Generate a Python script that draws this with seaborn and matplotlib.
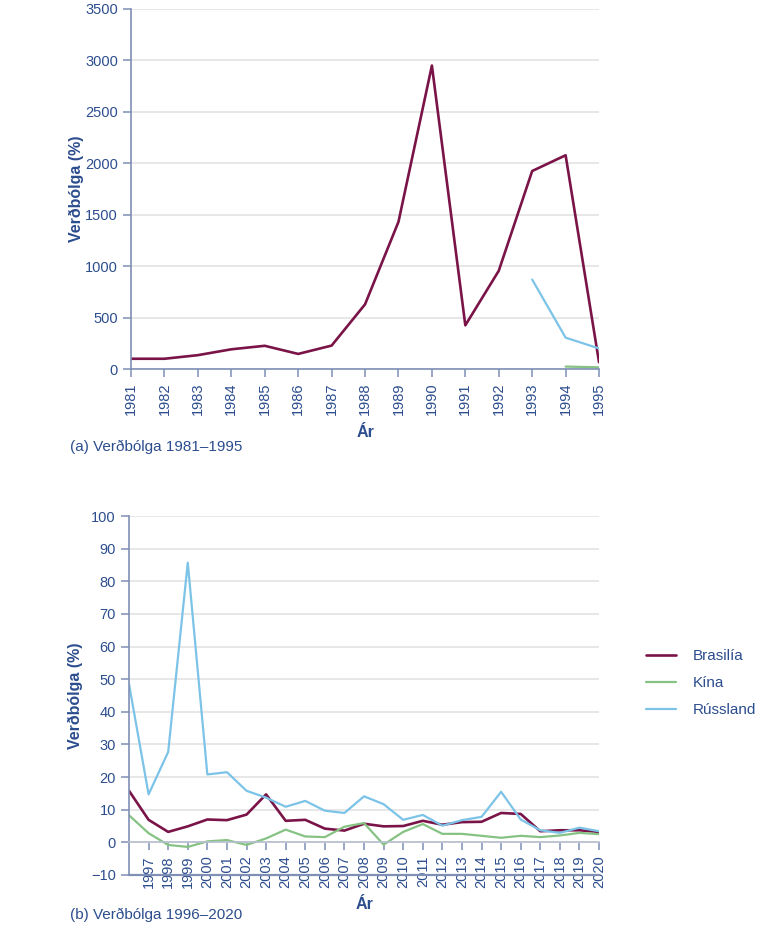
import numpy as np
import pandas as pd
import matplotlib
matplotlib.use("Agg")
import matplotlib.pyplot as plt
import seaborn as sns

# Data
years_a = list(range(1981, 1996))
brazil_a = [100, 100, 135, 192, 226, 147, 228, 629, 1431, 2950, 425, 955, 1925, 2078, 66]
russia_a = [np.nan] * 12 + [870, 305, 200]
china_a = [np.nan] * 13 + [24, 17]

years_b = list(range(1996, 2021))
brazil_b = [15.8, 6.9, 3.2, 4.9, 7.0, 6.8, 8.5, 14.7, 6.6, 6.9, 4.2, 3.6, 5.7, 4.9, 5.0,
            6.6, 5.4, 6.2, 6.3, 9.0, 8.7, 3.4, 3.7, 3.7, 3.2]
china_b = [8.3, 2.8, -0.8, -1.4, 0.3, 0.7, -0.8, 1.2, 3.9, 1.8, 1.6, 4.8, 5.9, -0.7, 3.2,
           5.6, 2.6, 2.6, 2.0, 1.4, 2.0, 1.6, 2.1, 2.9, 2.5]
russia_b = [48.5, 14.7, 27.7, 85.7, 20.8, 21.5, 15.8, 13.7, 10.9, 12.7, 9.7, 9.0, 14.1, 11.7, 6.9,
            8.4, 5.1, 6.8, 7.8, 15.5, 7.0, 3.7, 2.9, 4.5, 3.4]

countries = ['Brasilía', 'Kína', 'Rússland']
colors = {'Brasilía': '#7a1448', 'Kína': '#86c283', 'Rússland': '#7cc3e8'}
widths = {'Brasilía': 1.9, 'Kína': 1.6, 'Rússland': 1.6}

txt = '#2c4d8e'
spine = '#7f8fb5'
grid = '#e3e3e3'


def long_form(years, series):
    frames = []
    for name, vals in zip(countries, series):
        frames.append(pd.DataFrame({'Ár': years, 'val': vals, 'land': name}))
    return pd.concat(frames).dropna()


df_a = long_form(years_a, [brazil_a, china_a, russia_a])
df_b = long_form(years_b, [brazil_b, china_b, russia_b])

sns.set_style('white')
plt.rcParams['font.family'] = ['Liberation Sans', 'DejaVu Sans']

fig = plt.figure(figsize=(7.8, 9.35), dpi=100)
ax1 = fig.add_axes([0.168, 0.6053, 0.600, 0.3851])
ax2 = fig.add_axes([0.1654, 0.0642, 0.6026, 0.3839])

# bottom panel: x axis sits on the zero line (set before ticks, it resets them)
ax2.spines['bottom'].set_position(('data', 0))


def draw(ax, df):
    for name in countries:
        sub = df[df['land'] == name]
        if len(sub):
            sns.lineplot(data=sub, x='Ár', y='val', ax=ax, color=colors[name],
                         lw=widths[name], label=name, legend=False)


draw(ax1, df_a)
draw(ax2, df_b)

# top panel
ax1.set_xlim(1981, 1995)
ax1.set_ylim(0, 3500)
ax1.set_yticks(range(0, 3501, 500))
ax1.set_xticks(years_a)
ax1.set_xticklabels([str(y) for y in years_a])

# bottom panel
ax2.set_xlim(1996, 2020)
ax2.set_ylim(-10, 100)
ax2.set_yticks(range(-10, 101, 10))
ax2.set_yticklabels(['\u221210'] + [str(v) for v in range(0, 101, 10)])
ax2.set_xticks(years_b[1:])
ax2.set_xticklabels([str(y) for y in years_b[1:]])
ax2.axhline(-10, color=spine, lw=1.6, zorder=1, clip_on=False)

for ax in (ax1, ax2):
    ax.set_axisbelow(True)
    ax.yaxis.grid(True, color=grid, lw=1.2)
    ax.xaxis.grid(False)
    for s in ('top', 'right'):
        ax.spines[s].set_visible(False)
    ax.spines['left'].set_color(spine)
    ax.spines['bottom'].set_color(spine)
    ax.spines['left'].set_linewidth(1.2)
    ax.spines['bottom'].set_linewidth(1.2)
    ax.tick_params(axis='both', colors=spine, labelcolor=txt, labelsize=10.5,
                   length=6, width=1.1, direction='out', left=True, bottom=True)
    ax.tick_params(axis='x', labelrotation=90)
    ax.set_xlabel('Ár', color=txt, fontsize=11.5, fontweight='bold')
    ax.set_ylabel('Verðbólga (%)', color=txt, fontsize=11.5, fontweight='bold')

ax2.spines['bottom'].set_color('#b8bfd0')
ax1.xaxis.set_label_coords(0.5, -0.155)
ax2.xaxis.set_label_coords(0.5, -0.062)
ax1.yaxis.set_label_coords(-0.10, 0.5)
ax2.yaxis.set_label_coords(-0.098, 0.5)

fig.text(0.09, 0.522, '(a) Verðbólga 1981\u20131995', color=txt, fontsize=11, va='center')
fig.text(0.09, 0.021, '(b) Verðbólga 1996\u20132020', color=txt, fontsize=11, va='center')

ax2.legend(loc='center left', bbox_to_anchor=(1.07, 0.535), frameon=False,
           fontsize=11, labelcolor=txt, handlelength=2.0, handletextpad=1.1,
           labelspacing=0.85)

fig.savefig('out.png', dpi=100)
